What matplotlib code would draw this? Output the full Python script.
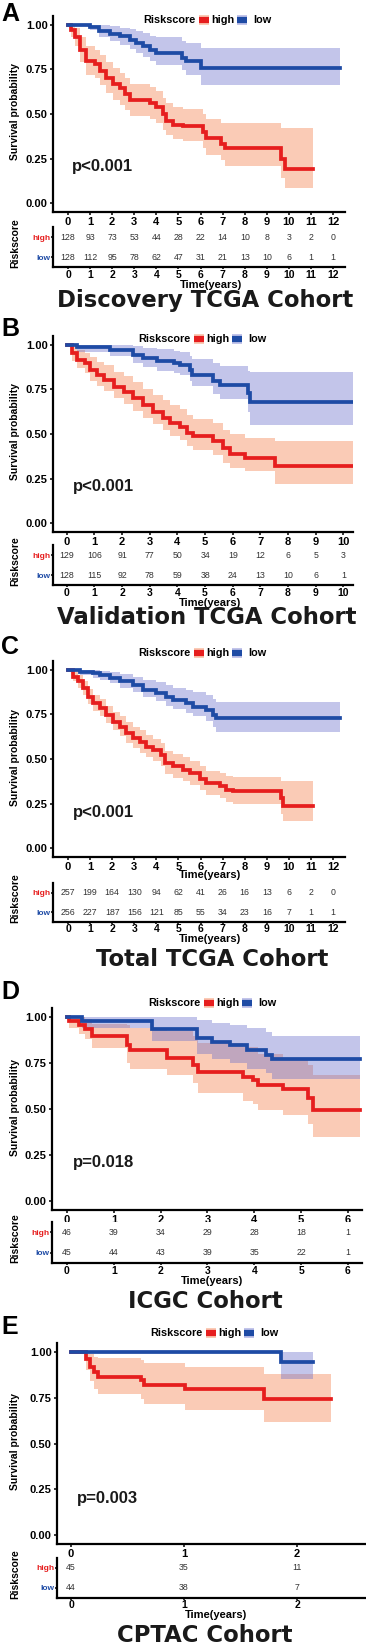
import matplotlib
matplotlib.use('Agg')
import matplotlib.pyplot as plt
from matplotlib.patches import Rectangle
from matplotlib.lines import Line2D

plt.rcParams['font.family'] = ['Liberation Sans', 'DejaVu Sans']

W, H = 366, 1645

RED = '#E61E1E'
BLUE = '#1E4BA5'
RED_FILL = '#F58C5F'
BLUE_FILL = '#6B6FCB'
NUM_COL = '#333333'

# ================= data =================
# A: Discovery TCGA Cohort
a_high_t = [0, 0.15, 0.3, 0.53, 0.83, 1.2, 1.43, 1.74, 2.04, 2.34, 2.57, 2.8, 3.7, 4.0,
            4.3, 4.45, 4.75, 5.2, 6.1, 6.26, 6.94, 7.1, 9.66, 9.81]
a_high_s = [1.0, 0.97, 0.93, 0.86, 0.80, 0.78, 0.74, 0.70, 0.67, 0.645, 0.61, 0.58, 0.56, 0.54,
            0.50, 0.46, 0.44, 0.43, 0.40, 0.365, 0.33, 0.31, 0.25, 0.19]
a_high_hi = [1.0, 1.0, 0.98, 0.93, 0.88, 0.86, 0.83, 0.79, 0.76, 0.73, 0.70, 0.67, 0.65, 0.63,
             0.59, 0.56, 0.54, 0.53, 0.50, 0.47, 0.45, 0.45, 0.42, 0.42]
a_high_lo = [1.0, 0.93, 0.88, 0.79, 0.72, 0.70, 0.66, 0.62, 0.58, 0.55, 0.52, 0.49, 0.47, 0.45,
             0.41, 0.38, 0.36, 0.35, 0.31, 0.27, 0.24, 0.21, 0.14, 0.085]
a_high_end = 11.1
a_low_t = [0, 1.0, 1.4, 1.9, 2.35, 2.8, 3.1, 3.4, 3.7, 4.0, 5.15, 5.35, 6.0]
a_low_s = [1.0, 0.99, 0.965, 0.95, 0.935, 0.915, 0.90, 0.88, 0.86, 0.84, 0.815, 0.795, 0.76]
a_low_hi = [1.0, 1.0, 1.0, 0.995, 0.985, 0.975, 0.965, 0.955, 0.94, 0.93, 0.91, 0.90, 0.87]
a_low_lo = [1.0, 0.97, 0.93, 0.91, 0.89, 0.865, 0.845, 0.82, 0.80, 0.775, 0.745, 0.72, 0.665]
a_low_end = 12.3
a_risk_high = [128, 93, 73, 53, 44, 28, 22, 14, 10, 8, 3, 2, 0]
a_risk_low = [128, 112, 95, 78, 62, 47, 31, 21, 13, 10, 6, 1, 1]

# B: Validation TCGA Cohort
b_high_t = [0, 0.18, 0.36, 0.66, 0.84, 1.08, 1.33, 1.69, 2.05, 2.41, 2.77, 3.13, 3.49, 3.73,
            4.1, 4.34, 4.58, 5.3, 5.66, 5.9, 6.45, 7.53]
b_high_s = [1.0, 0.953, 0.916, 0.897, 0.86, 0.83, 0.804, 0.766, 0.738, 0.70, 0.66, 0.626, 0.589,
            0.56, 0.542, 0.505, 0.486, 0.458, 0.42, 0.39, 0.364, 0.32]
b_high_hi = [1.0, 0.99, 0.97, 0.955, 0.93, 0.905, 0.885, 0.85, 0.825, 0.79, 0.755, 0.72, 0.69,
             0.66, 0.64, 0.605, 0.585, 0.56, 0.525, 0.50, 0.48, 0.46]
b_high_lo = [1.0, 0.91, 0.87, 0.84, 0.80, 0.77, 0.74, 0.70, 0.67, 0.63, 0.59, 0.555, 0.52,
             0.49, 0.465, 0.43, 0.41, 0.38, 0.34, 0.31, 0.29, 0.22]
b_high_end = 10.36
b_low_t = [0, 0.36, 1.57, 2.41, 2.77, 3.25, 3.86, 4.1, 4.46, 4.52, 5.3, 5.54, 6.57, 6.63]
b_low_s = [1.0, 0.987, 0.972, 0.944, 0.925, 0.907, 0.897, 0.888, 0.86, 0.83, 0.80, 0.776, 0.73, 0.68]
b_low_hi = [1.0, 1.0, 1.0, 0.995, 0.985, 0.975, 0.965, 0.96, 0.94, 0.92, 0.90, 0.88, 0.855, 0.85]
b_low_lo = [1.0, 0.96, 0.935, 0.897, 0.875, 0.855, 0.845, 0.83, 0.80, 0.77, 0.725, 0.695, 0.625, 0.55]
b_low_end = 10.36
b_risk_high = [129, 106, 91, 77, 50, 34, 19, 12, 6, 5, 3]
b_risk_low = [128, 115, 92, 78, 59, 38, 24, 13, 10, 6, 1]

# C: Total TCGA Cohort
c_high_t = [0, 0.23, 0.45, 0.68, 0.9, 1.13, 1.43, 1.74, 2.04, 2.34, 2.64, 2.94, 3.25, 3.55,
            3.85, 4.23, 4.38, 4.75, 5.2, 5.5, 5.96, 6.26, 6.87, 7.17, 7.47, 9.66, 9.74]
c_high_s = [1.0, 0.963, 0.935, 0.897, 0.85, 0.813, 0.785, 0.748, 0.71, 0.682, 0.645, 0.617,
            0.595, 0.57, 0.55, 0.523, 0.477, 0.458, 0.44, 0.42, 0.39, 0.364, 0.346, 0.327,
            0.318, 0.28, 0.234]
c_high_hi = [1.0, 0.99, 0.97, 0.935, 0.895, 0.86, 0.835, 0.80, 0.765, 0.74, 0.705, 0.68, 0.66,
             0.635, 0.615, 0.59, 0.545, 0.53, 0.51, 0.49, 0.46, 0.435, 0.42, 0.405, 0.40,
             0.375, 0.375]
c_high_lo = [1.0, 0.935, 0.90, 0.86, 0.81, 0.77, 0.74, 0.70, 0.66, 0.63, 0.59, 0.56, 0.535,
             0.51, 0.49, 0.46, 0.415, 0.395, 0.375, 0.355, 0.325, 0.30, 0.28, 0.26, 0.25,
             0.19, 0.15]
c_high_end = 11.1
c_low_t = [0, 0.53, 1.13, 1.43, 1.89, 2.34, 2.94, 3.4, 4.0, 4.45, 4.75, 5.36, 5.66, 6.26, 6.57, 6.72]
c_low_s = [1.0, 0.99, 0.98, 0.972, 0.957, 0.938, 0.916, 0.89, 0.87, 0.85, 0.83, 0.813, 0.794,
           0.776, 0.748, 0.73]
c_low_hi = [1.0, 1.0, 1.0, 0.995, 0.99, 0.975, 0.96, 0.945, 0.93, 0.915, 0.90, 0.89, 0.875,
            0.86, 0.835, 0.82]
c_low_lo = [1.0, 0.97, 0.955, 0.945, 0.925, 0.90, 0.875, 0.85, 0.825, 0.80, 0.78, 0.76, 0.74,
            0.715, 0.68, 0.65]
c_low_end = 12.3
c_risk_high = [257, 199, 164, 130, 94, 62, 41, 26, 16, 13, 6, 2, 0]
c_risk_low = [256, 227, 187, 156, 121, 85, 55, 34, 23, 16, 7, 1, 1]

# D: ICGC Cohort
d_high_t = [0, 0.05, 0.25, 0.39, 0.53, 1.28, 1.35, 2.13, 2.7, 2.8, 3.76, 3.98, 4.08, 4.62, 5.15, 5.26]
d_high_s = [1.0, 0.978, 0.956, 0.935, 0.895, 0.85, 0.82, 0.78, 0.74, 0.70, 0.675, 0.66, 0.63,
            0.61, 0.56, 0.495]
d_high_hi = [1.0, 1.0, 1.0, 0.99, 0.965, 0.955, 0.94, 0.925, 0.895, 0.86, 0.84, 0.835, 0.80,
             0.77, 0.74, 0.685]
d_high_lo = [1.0, 0.94, 0.91, 0.88, 0.83, 0.75, 0.72, 0.685, 0.64, 0.585, 0.545, 0.525, 0.495,
             0.47, 0.42, 0.35]
d_high_end = 6.25
d_low_t = [0, 0.32, 1.81, 2.77, 3.09, 3.48, 3.84, 4.26, 4.37]
d_low_s = [1.0, 0.978, 0.935, 0.886, 0.864, 0.846, 0.82, 0.795, 0.77]
d_low_hi = [1.0, 1.0, 1.0, 0.985, 0.97, 0.955, 0.94, 0.92, 0.90]
d_low_lo = [1.0, 0.94, 0.87, 0.80, 0.77, 0.75, 0.72, 0.695, 0.665]
d_low_end = 6.25
d_risk_high = [46, 39, 34, 29, 28, 18, 1]
d_risk_low = [45, 44, 43, 39, 35, 22, 1]

# E: CPTAC Cohort
e_high_t = [0, 0.13, 0.17, 0.2, 0.24, 0.62, 0.65, 1.01, 1.71]
e_high_s = [1.0, 0.964, 0.92, 0.89, 0.864, 0.845, 0.82, 0.80, 0.745]
e_high_hi = [1.0, 1.0, 0.99, 0.975, 0.97, 0.955, 0.94, 0.92, 0.88]
e_high_lo = [1.0, 0.90, 0.84, 0.80, 0.77, 0.745, 0.715, 0.685, 0.62]
e_high_end = 2.3
e_low_t = [0, 1.86]
e_low_s = [1.0, 0.945]
e_low_hi = [1.0, 1.0]
e_low_lo = [1.0, 0.855]
e_low_end = 2.14
e_risk_high = [45, 35, 11]
e_risk_low = [44, 38, 7]

titles = ['Discovery TCGA Cohort', 'Validation TCGA Cohort', 'Total TCGA Cohort',
          'ICGC Cohort', 'CPTAC Cohort']
letters = ['A', 'B', 'C', 'D', 'E']
pvals = ['p<0.001', 'p<0.001', 'p<0.001', 'p=0.018', 'p=0.003']

# ================= layout (pixels of the 366x1645 picture) =================
panels = [
    dict(high=(a_high_t, a_high_s, a_high_lo, a_high_hi, a_high_end),
         low=(a_low_t, a_low_s, a_low_lo, a_low_hi, a_low_end),
         risk=(a_risk_high, a_risk_low), xlim=(-0.68, 12.54),
         km=(53, 345, 16, 212), tb=(53, 345, 227, 267), letter_y=14,
         leg=(143, 20), p=(72, 167), title=(205, 301), tx=211, km_xlabel=None),
    dict(high=(b_high_t, b_high_s, b_high_lo, b_high_hi, b_high_end),
         low=(b_low_t, b_low_s, b_low_lo, b_low_hi, b_low_end),
         risk=(b_risk_high, b_risk_low), xlim=(-0.5, 10.35),
         km=(53, 353, 336, 532), tb=(53, 353, 545, 585), letter_y=329,
         leg=(138, 339), p=(73, 487), title=(207, 618), tx=210, km_xlabel=None),
    dict(high=(c_high_t, c_high_s, c_high_lo, c_high_hi, c_high_end),
         low=(c_low_t, c_low_s, c_low_lo, c_low_hi, c_low_end),
         risk=(c_risk_high, c_risk_low), xlim=(-0.68, 12.54),
         km=(53, 345, 661, 857), tb=(53, 345, 883, 922), letter_y=647,
         leg=(138, 653), p=(73, 812), title=(212, 960), tx=210, km_xlabel=875),
    dict(high=(d_high_t, d_high_s, d_high_lo, d_high_hi, d_high_end),
         low=(d_low_t, d_low_s, d_low_lo, d_low_hi, d_low_end),
         risk=(d_risk_high, d_risk_low), xlim=(-0.32, 6.3),
         km=(52, 362, 1008, 1210), tb=(52, 362, 1222, 1263), letter_y=992,
         leg=(148, 1003), p=(73, 1163), title=(205, 1302), tx=212, km_xlabel=None),
    dict(high=(e_high_t, e_high_s, e_high_lo, e_high_hi, e_high_end),
         low=(e_low_t, e_low_s, e_low_lo, e_low_hi, e_low_end),
         risk=(e_risk_high, e_risk_low), xlim=(-0.124, 2.61),
         km=(57, 366, 1343, 1544), tb=(57, 366, 1558, 1598), letter_y=1327,
         leg=(150, 1333), p=(77, 1498), title=(205, 1636), tx=216, km_xlabel=None),
]


def rect(l, r, t, b):
    return [l / W, 1 - b / H, (r - l) / W, (b - t) / H]


def fx(x):
    return x / W


def fy(y):
    return 1 - y / H


def style_axes(ax, size=8, pad=1.5, length=2.2):
    for s in ['top', 'right']:
        ax.spines[s].set_visible(False)
    for s in ['left', 'bottom']:
        ax.spines[s].set_linewidth(1.6)
    ax.tick_params(direction='out', length=length, width=1.1, pad=pad, labelsize=size)
    for lbl in ax.get_xticklabels() + ax.get_yticklabels():
        lbl.set_fontweight('bold')


fig = plt.figure(figsize=(W / 100, H / 100), dpi=100)
fig.patch.set_facecolor('white')

for i, p in enumerate(panels):
    xmax_tick = len(p['risk'][0]) - 1

    # ---- survival curves ----
    km = fig.add_axes(rect(*p['km']))
    for key, fcol, a in [('high', RED_FILL, 0.45), ('low', BLUE_FILL, 0.40)]:
        t, s, lo, hi, end = p[key]
        km.fill_between(t + [end], lo + [lo[-1]], hi + [hi[-1]], step='post',
                        color=fcol, alpha=a, linewidth=0)
    for key, col in [('high', RED), ('low', BLUE)]:
        t, s, lo, hi, end = p[key]
        km.step(t + [end], s + [s[-1]], where='post', color=col, linewidth=2.7,
                solid_joinstyle='miter')
    km.set_xlim(*p['xlim'])
    km.set_ylim(-0.05, 1.05)
    km.set_xticks(range(xmax_tick + 1))
    km.set_yticks([0, 0.25, 0.5, 0.75, 1.0])
    km.set_yticklabels(['0.00', '0.25', '0.50', '0.75', '1.00'])
    style_axes(km)

    # ---- risk table ----
    tb = fig.add_axes(rect(*p['tb']))
    tb.set_xlim(*p['xlim'])
    tb.set_ylim(0.5, 2.5)
    tb.set_xticks(range(xmax_tick + 1))
    tb.set_yticks([2, 1])
    tb.set_yticklabels(['high', 'low'])
    for row, counts in [(2, p['risk'][0]), (1, p['risk'][1])]:
        for x, n in enumerate(counts):
            tb.text(x, row, str(n), ha='center', va='center', fontsize=6.3, color=NUM_COL)
    style_axes(tb, size=7.5, pad=0.3, length=1.5)
    for lbl, col in zip(tb.get_yticklabels(), [RED, BLUE]):
        lbl.set_color(col)
        lbl.set_fontsize(6)

    # ---- texts ----
    l, r, t_, b_ = p['km']
    fig.text(fx(15), fy((t_ + b_) / 2 - 2), 'Survival probability', rotation=90,
             ha='center', va='center', fontsize=7.5, fontweight='bold')
    tl, tr, tt, tbot = p['tb']
    fig.text(fx(15), fy((tt + tbot) / 2 - 4), 'Riskscore', rotation=90,
             ha='center', va='center', fontsize=7.5, fontweight='bold')
    fig.text(fx(p['tx']), fy(tbot + 17.5), 'Time(years)', ha='center', va='center',
             fontsize=8, fontweight='bold')
    if p['km_xlabel'] is not None:
        fig.text(fx(p['tx']), fy(p['km_xlabel']), 'Time(years)', ha='center', va='center',
                 fontsize=8, fontweight='bold')
    fig.text(fx(p['p'][0]), fy(p['p'][1]), pvals[i], ha='left', va='center',
             fontsize=12, fontweight='bold', color='#1a1a1a')
    fig.text(fx(1), fy(p['letter_y']), letters[i], ha='left', va='center',
             fontsize=18, fontweight='bold')
    fig.text(fx(p['title'][0]), fy(p['title'][1]), titles[i], ha='center', va='center',
             fontsize=16.4, fontweight='bold', family='DejaVu Sans', color='#1a1a1a')

    # ---- legend ----
    lx, ly = p['leg']
    fig.text(fx(lx), fy(ly), 'Riskscore', ha='left', va='center', fontsize=7.8,
             fontweight='bold')
    for dx, fcol, a, col, lab in [(56, RED_FILL, 0.45, RED, 'high'),
                                  (94, BLUE_FILL, 0.40, BLUE, 'low')]:
        fig.add_artist(Rectangle((fx(lx + dx), fy(ly + 5)), 10 / W, 10 / H,
                                 transform=fig.transFigure, facecolor=fcol, alpha=a,
                                 edgecolor='none'))
        fig.add_artist(Line2D([fx(lx + dx), fx(lx + dx + 10)], [fy(ly), fy(ly)],
                              transform=fig.transFigure, color=col, linewidth=4.5,
                              solid_capstyle='butt'))
        off = 12 if lab == 'high' else 16
        fig.text(fx(lx + dx + off), fy(ly), lab, ha='left', va='center', fontsize=7.8,
                 fontweight='bold')

fig.savefig('out.png', dpi=100, facecolor='white')
plt.close(fig)
